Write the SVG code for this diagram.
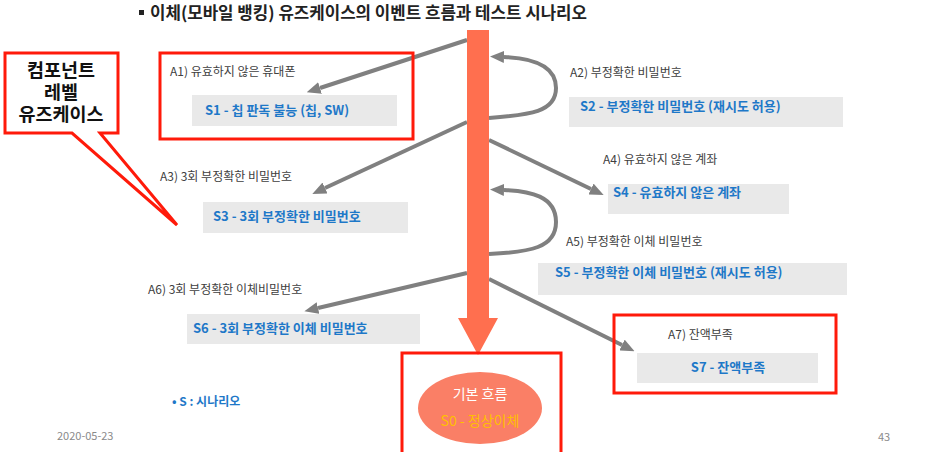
<svg xmlns="http://www.w3.org/2000/svg" width="936" height="452" viewBox="0 0 936 452">
<defs>
<marker id="ah" markerWidth="14" markerHeight="12" refX="0" refY="6" orient="auto" markerUnits="userSpaceOnUse"><path d="M0,0 L14,6 L0,12 z" fill="#808080"/></marker>
<style>
text{font-family:"Noto Sans CJK KR","Noto Sans",sans-serif}
.ttl{font-size:16.8px;font-weight:bold;fill:#222}
.lbl{font-size:12px;fill:#404040}
.sc{font-size:13px;font-weight:bold;fill:#1E78C8}
.box{fill:#E9E9E9}
.red{fill:none;stroke:#FF1A0A;stroke-width:3}
.con{fill:none;stroke:#808080;stroke-width:4}
.call{font-size:18.5px;font-weight:bold;fill:#111;text-anchor:middle}
.foot{font-size:11px;fill:#8A8A8A}
</style>
</defs>
<rect width="936" height="452" fill="#fff"/>
<g id="title">
<rect x="139" y="10" width="5" height="5" fill="#222"/>
<text class="ttl" x="150" y="19">이체(모바일 뱅킹) 유즈케이스의 이벤트 흐름과 테스트 시나리오</text>
</g>
<g id="callout">
<path d="M5,53 H118 V133 H100 L177,225 L72,133 H5 Z" fill="#fff" stroke="#FF1A0A" stroke-width="3"/>
<text class="call" x="61" y="77">컴포넌트</text>
<text class="call" x="61" y="99">레벨</text>
<text class="call" x="61" y="121">유즈케이스</text>
</g>
<g id="connectors">
<path class="con" d="M467,40 L320,88" marker-end="url(#ah)"/>
<path class="con" d="M467,122 L325,188" marker-end="url(#ah)"/>
<path class="con" d="M489,118 C530,115 556,112 556,88 C556,64 530,58 504,57" marker-end="url(#ah)"/>
<path class="con" d="M489,140 L591,189" marker-end="url(#ah)"/>
<path class="con" d="M489,254 C530,252 556,248 556,222 C556,196 530,191 504,190" marker-end="url(#ah)"/>
<path class="con" d="M467,273 L318,308" marker-end="url(#ah)"/>
<path class="con" d="M489,279 L622,345" marker-end="url(#ah)"/>
<path d="M467,30 H489 V318 H498 L478,355 L458,318 H467 Z" fill="#FF6F4F"/>
</g>
<g id="a1">
<rect class="red" x="160" y="53" width="253" height="86"/>
<text class="lbl" x="170" y="76">A1) 유효하지 않은 휴대폰</text>
<rect class="box" x="192" y="95" width="205" height="31"/>
<text class="sc" x="205" y="115">S1 - 칩 판독 불능 (칩, SW)</text>
</g>
<g id="a2">
<text class="lbl" x="570" y="77">A2) 부정확한 비밀번호</text>
<rect class="box" x="569" y="97" width="274" height="30"/>
<text class="sc" x="580" y="111">S2 - 부정확한 비밀번호 (재시도 허용)</text>
</g>
<g id="a3">
<text class="lbl" x="160" y="181">A3) 3회 부정확한 비밀번호</text>
<rect class="box" x="203" y="202" width="205" height="31"/>
<text class="sc" x="213" y="221">S3 - 3회 부정확한 비밀번호</text>
</g>
<g id="a4">
<text class="lbl" x="603" y="164">A4) 유효하지 않은 계좌</text>
<rect class="box" x="608" y="184" width="181" height="30"/>
<text class="sc" x="613" y="197">S4 - 유효하지 않은 계좌</text>
</g>
<g id="a5">
<text class="lbl" x="566" y="246">A5) 부정확한 이체 비밀번호</text>
<rect class="box" x="538" y="263" width="309" height="32"/>
<text class="sc" x="555" y="277">S5 - 부정확한 이체 비밀번호 (재시도 허용)</text>
</g>
<g id="a6">
<text class="lbl" x="148" y="294">A6) 3회 부정확한 이체비밀번호</text>
<rect class="box" x="187" y="314" width="233" height="30"/>
<text class="sc" x="193" y="333">S6 - 3회 부정확한 이체 비밀번호</text>
</g>
<g id="a7">
<rect class="red" x="614" y="315" width="222" height="78"/>
<text class="lbl" x="668" y="339">A7) 잔액부족</text>
<rect class="box" x="637" y="353" width="181" height="30"/>
<text class="sc" x="728" y="372" text-anchor="middle">S7 - 잔액부족</text>
</g>
<g id="s0">
<rect class="red" x="402" y="353" width="159" height="110"/>
<ellipse cx="480" cy="408" rx="62" ry="36" fill="#FA7F66"/>
<text x="480" y="399" text-anchor="middle" font-size="14" fill="#fff">기본 흐름</text>
<text x="480" y="426" text-anchor="middle" font-size="14" fill="#FFC000">S0 - 정상이체</text>
</g>
<g id="legend">
<text x="172" y="406" font-size="12" font-weight="bold" fill="#1E78C8">• S : 시나리오</text>
</g>
<g id="footer">
<text class="foot" x="57" y="440">2020-05-23</text>
<text class="foot" x="878" y="441" font-size="12">43</text>
</g>
</svg>
